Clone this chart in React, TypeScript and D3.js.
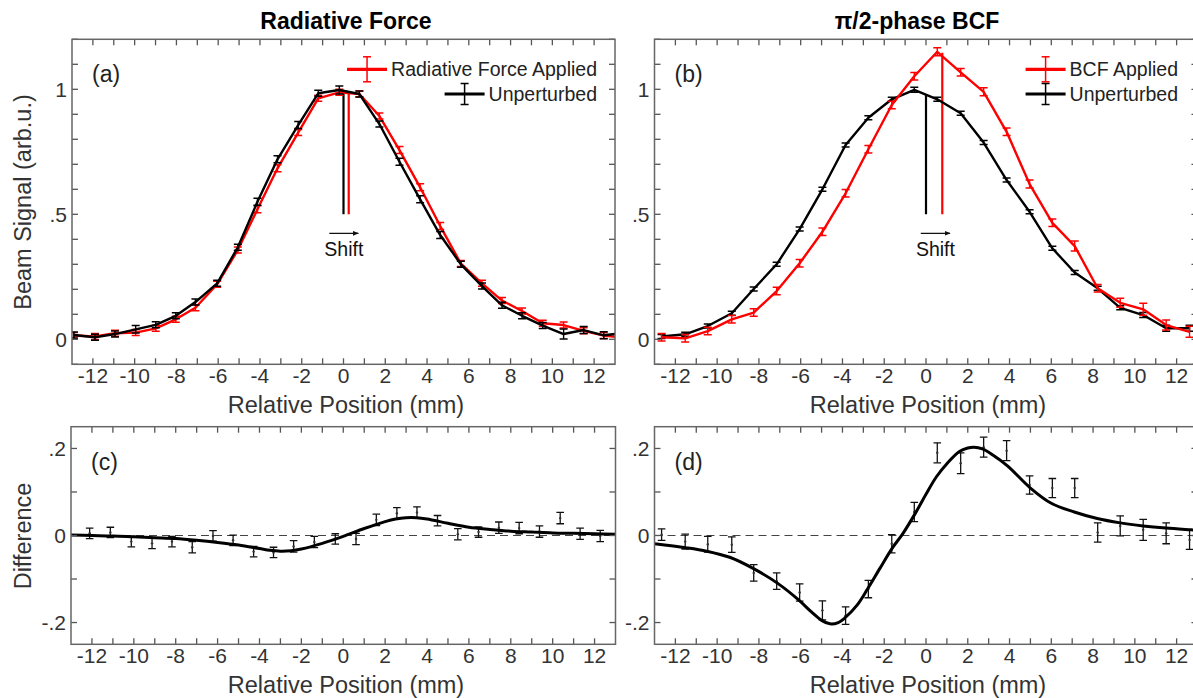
import React, { useEffect, useRef } from 'react';
import * as d3 from 'd3';

const width = 1193;
const height = 698;
const FONT = 'Arial, "Liberation Sans", Helvetica, sans-serif';
const RED = '#ff0000';

// ---- panel (a): radiative force ----
const posA = [-12.91, -11.9, -10.94, -9.95, -8.99, -8.03, -7.09, -6.05, -5.06, -4.12, -3.16, -2.17, -1.21, -0.2, 0.76, 1.72, 2.68, 3.67, 4.63, 5.62, 6.63, 7.59, 8.55, 9.54, 10.54, 11.5, 12.46, 13.43];
const unpertA = [0.017, 0.008, 0.021, 0.04, 0.058, 0.094, 0.149, 0.224, 0.368, 0.55, 0.72, 0.857, 0.984, 0.997, 0.981, 0.861, 0.71, 0.56, 0.417, 0.3, 0.213, 0.136, 0.094, 0.055, 0.021, 0.037, 0.016, 0.025];
const unpertAErr = [0.012, 0.012, 0.012, 0.015, 0.012, 0.012, 0.012, 0.012, 0.012, 0.014, 0.014, 0.014, 0.012, 0.016, 0.012, 0.012, 0.014, 0.014, 0.014, 0.012, 0.012, 0.012, 0.012, 0.012, 0.02, 0.014, 0.014, 0.014];
const forceA = [0.015, 0.011, 0.024, 0.027, 0.044, 0.08, 0.126, 0.22, 0.357, 0.52, 0.684, 0.827, 0.964, 0.988, 0.981, 0.893, 0.757, 0.608, 0.453, 0.303, 0.224, 0.155, 0.113, 0.064, 0.057, 0.034, 0.015, 0.006];
const forceAErr = [0.012, 0.012, 0.012, 0.012, 0.012, 0.012, 0.012, 0.012, 0.012, 0.014, 0.014, 0.012, 0.012, 0.012, 0.012, 0.012, 0.014, 0.014, 0.014, 0.012, 0.012, 0.012, 0.012, 0.012, 0.012, 0.012, 0.012, 0.012];

// ---- panel (b): pi/2-phase BCF ----
const posB = [-12.66, -11.53, -10.45, -9.3, -8.25, -7.15, -6.05, -4.96, -3.85, -2.76, -1.64, -0.56, 0.54, 1.66, 2.76, 3.86, 4.96, 6.05, 7.12, 8.22, 9.3, 10.4, 11.5, 12.62];
const unpertB = [0.011, 0.02, 0.053, 0.104, 0.201, 0.3, 0.441, 0.6, 0.777, 0.886, 0.96, 0.998, 0.96, 0.904, 0.787, 0.637, 0.51, 0.364, 0.267, 0.204, 0.126, 0.097, 0.044, 0.044];
const unpertBErr = [0.008, 0.008, 0.008, 0.008, 0.008, 0.008, 0.008, 0.008, 0.008, 0.008, 0.008, 0.01, 0.008, 0.008, 0.008, 0.008, 0.008, 0.008, 0.008, 0.008, 0.008, 0.01, 0.012, 0.012];
const bcfB = [0.008, 0.004, 0.033, 0.08, 0.107, 0.193, 0.304, 0.43, 0.584, 0.76, 0.937, 1.052, 1.15, 1.068, 0.99, 0.83, 0.621, 0.466, 0.373, 0.204, 0.146, 0.12, 0.057, 0.03];
const bcfBErr = [0.015, 0.015, 0.015, 0.015, 0.015, 0.015, 0.015, 0.015, 0.015, 0.015, 0.015, 0.015, 0.016, 0.015, 0.016, 0.015, 0.016, 0.015, 0.02, 0.015, 0.018, 0.024, 0.02, 0.022];

// ---- panel (c): difference, radiative force ----
const posC = [-12.11, -11.12, -10.12, -9.13, -8.18, -7.21, -6.22, -5.26, -4.28, -3.33, -2.37, -1.38, -0.38, 0.61, 1.58, 2.56, 3.52, 4.5, 5.47, 6.46, 7.43, 8.4, 9.37, 10.36, 11.31, 12.27];
const diffC = [0.005, 0.007, -0.014, -0.018, -0.014, -0.027, -0.001, -0.011, -0.037, -0.039, -0.025, -0.015, -0.008, -0.008, 0.036, 0.051, 0.053, 0.034, 0.003, 0.008, 0.018, 0.017, 0.009, 0.04, 0.004, -0.001];
const diffCErr = [0.012, 0.012, 0.012, 0.012, 0.012, 0.013, 0.012, 0.012, 0.012, 0.012, 0.013, 0.013, 0.012, 0.013, 0.013, 0.013, 0.013, 0.012, 0.013, 0.012, 0.013, 0.013, 0.013, 0.013, 0.013, 0.013];
const fitCx = [-13, -12, -11, -10, -9, -8, -7, -6, -5, -4, -3.5, -3, -2.5, -2, -1, 0, 1, 2, 2.5, 3, 3.5, 4, 5, 6, 7, 8, 9, 10, 11, 12, 13];
const fitCy = [0.001, 0, -0.001, -0.003, -0.005, -0.007, -0.011, -0.016, -0.022, -0.03, -0.034, -0.036, -0.035, -0.031, -0.018, -0.002, 0.016, 0.032, 0.038, 0.041, 0.041, 0.038, 0.028, 0.019, 0.014, 0.01, 0.008, 0.006, 0.005, 0.004, 0.003];

// ---- panel (d): difference, BCF ----
const diffD = [0.002, -0.014, -0.02, -0.021, -0.086, -0.105, -0.131, -0.172, -0.184, -0.123, -0.019, 0.054, 0.19, 0.166, 0.203, 0.195, 0.116, 0.109, 0.109, 0.007, 0.022, 0.013, 0.005, -0.01];
const diffDErr = [0.013, 0.017, 0.018, 0.018, 0.019, 0.019, 0.02, 0.022, 0.02, 0.02, 0.021, 0.022, 0.023, 0.024, 0.023, 0.023, 0.021, 0.022, 0.022, 0.022, 0.023, 0.024, 0.024, 0.022];
const fitDx = [-13, -11.5, -10.5, -9.4, -8.3, -7.1, -6.1, -5.5, -5, -4.6, -4.2, -3.9, -3.3, -2.8, -2.2, -1.6, -1.1, -0.5, 0, 0.5, 1, 1.6, 2, 2.3, 2.7, 3.2, 3.9, 5, 6, 7.1, 8.2, 9.3, 10.4, 11.5, 12.7, 13];
const fitDy = [-0.019, -0.028, -0.036, -0.05, -0.075, -0.11, -0.148, -0.175, -0.195, -0.203, -0.2, -0.19, -0.16, -0.123, -0.075, -0.028, 0.005, 0.052, 0.095, 0.135, 0.165, 0.193, 0.201, 0.203, 0.199, 0.185, 0.16, 0.109, 0.074, 0.054, 0.039, 0.029, 0.022, 0.017, 0.013, 0.012];

// peak markers: [position, top value], both start at 0.5
const markA = { black: [0, 0.995], red: [0.25, 0.985], arrow: [-0.68, 0.71] };
const markB = { black: [0, 0.977], red: [0.78, 1.146], arrow: [-0.25, 1.15] };

const xTickLabels = [-12, -10, -8, -6, -4, -2, 0, 2, 4, 6, 8, 10, 12];
const topYLabels = [0, 0.5, 1];
const topYText = ['0', '.5', '1'];
const botYLabels = [-0.2, 0, 0.2];
const botYText = ['-.2', '0', '.2'];

const App = () => {
  const ref = useRef(null);

  useEffect(() => {
    const svg = d3.select(ref.current);
    svg.selectAll('*').remove();
    const defs = svg.append('defs');
    defs.append('marker')
      .attr('id', 'arrowhead')
      .attr('viewBox', '0 0 10 10')
      .attr('refX', 9).attr('refY', 5)
      .attr('markerWidth', 6).attr('markerHeight', 6)
      .attr('markerUnits', 'userSpaceOnUse')
      .attr('orient', 'auto')
      .append('path').attr('d', 'M0,1 L10,5 L0,9 Z').attr('fill', '#111');

    function panel(p) {
      const x = d3.scaleLinear().domain([-13, 13]).range([p.left, p.right]);
      const y = d3.scaleLinear().domain(p.yDomain).range([p.bottom, p.top]);
      defs.append('clipPath').attr('id', p.id).append('rect')
        .attr('x', p.left).attr('y', p.top)
        .attr('width', p.right - p.left).attr('height', p.bottom - p.top);
      const plot = svg.append('g').attr('clip-path', `url(#${p.id})`);
      const frame = svg.append('g');

      const xt = d3.range(-12, 13);
      [[p.bottom, -6], [p.top, 6]].forEach(([y0, dl]) => {
        frame.selectAll(null).data(xt).enter().append('line')
          .attr('x1', d => x(d)).attr('x2', d => x(d))
          .attr('y1', y0).attr('y2', y0 + dl)
          .attr('stroke', '#555').attr('stroke-width', 1.3);
      });
      [[p.left, 6], [p.right, -6]].forEach(([x0, dl]) => {
        frame.selectAll(null).data(p.yTicks).enter().append('line')
          .attr('x1', x0).attr('x2', x0 + dl)
          .attr('y1', d => y(d)).attr('y2', d => y(d))
          .attr('stroke', '#555').attr('stroke-width', 1.3);
      });
      frame.append('rect')
        .attr('x', p.left).attr('y', p.top)
        .attr('width', p.right - p.left).attr('height', p.bottom - p.top)
        .attr('fill', 'none').attr('stroke', '#666').attr('stroke-width', 1.5);

      frame.selectAll(null).data(xTickLabels).enter().append('text')
        .attr('x', d => x(d)).attr('y', p.bottom + 19)
        .attr('text-anchor', 'middle')
        .style('font-family', FONT).style('font-size', '21px').attr('fill', '#333')
        .text(d => d);
      frame.selectAll(null).data(p.yLabels).enter().append('text')
        .attr('x', p.left - 5).attr('y', d => y(d)).attr('dy', '0.36em')
        .attr('text-anchor', 'end')
        .style('font-family', FONT).style('font-size', '21px').attr('fill', '#333')
        .text((d, i) => p.yText[i]);
      frame.append('text')
        .attr('x', p.titleX).attr('y', p.bottom + 49)
        .attr('text-anchor', 'middle')
        .style('font-family', FONT).style('font-size', '23.5px').attr('fill', '#333')
        .text('Relative Position (mm)');
      frame.append('text')
        .attr('x', p.left + 20).attr('y', p.top + 43)
        .style('font-family', FONT).style('font-size', '23px').attr('fill', '#222')
        .text(p.label);
      return { x, y, plot };
    }

    function series(g, x, y, xs, vs, es, color) {
      const pts = xs.map((d, i) => [d, vs[i], es[i]]);
      g.append('path')
        .datum(pts)
        .attr('fill', 'none').attr('stroke', color).attr('stroke-width', 2.4)
        .attr('stroke-linejoin', 'round')
        .attr('d', d3.line().x(d => x(d[0])).y(d => y(d[1])));
      errorBars(g, x, y, pts, color, 4, 1.4);
    }

    function errorBars(g, x, y, pts, color, cap, sw) {
      const eb = g.append('g').attr('stroke', color).attr('stroke-width', sw);
      eb.selectAll(null).data(pts).enter().append('line')
        .attr('x1', d => x(d[0])).attr('x2', d => x(d[0]))
        .attr('y1', d => y(d[1] - d[2])).attr('y2', d => y(d[1] + d[2]));
      [-1, 1].forEach(s => {
        eb.selectAll(null).data(pts).enter().append('line')
          .attr('x1', d => x(d[0]) - cap).attr('x2', d => x(d[0]) + cap)
          .attr('y1', d => y(d[1] + s * d[2])).attr('y2', d => y(d[1] + s * d[2]));
      });
    }

    function markers(g, x, y, m) {
      g.append('line')
        .attr('x1', x(m.black[0])).attr('x2', x(m.black[0]))
        .attr('y1', y(0.5)).attr('y2', y(m.black[1]))
        .attr('stroke', '#000').attr('stroke-width', 2.2);
      g.append('line')
        .attr('x1', x(m.red[0])).attr('x2', x(m.red[0]))
        .attr('y1', y(0.5)).attr('y2', y(m.red[1]))
        .attr('stroke', RED).attr('stroke-width', 2.2);
      g.append('line')
        .attr('x1', x(m.arrow[0])).attr('x2', x(m.arrow[1]))
        .attr('y1', y(0.424)).attr('y2', y(0.424))
        .attr('stroke', '#111').attr('stroke-width', 1.3)
        .attr('marker-end', 'url(#arrowhead)');
      g.append('text')
        .attr('x', (x(m.arrow[0]) + x(m.arrow[1])) / 2).attr('y', y(0.424) + 23)
        .attr('text-anchor', 'middle')
        .style('font-family', FONT).style('font-size', '19.5px').attr('fill', '#111')
        .text('Shift');
    }

    function legend(rightX, rows) {
      rows.forEach((r, i) => {
        const ly = 69.3 + i * 24.7;
        const t = svg.append('text')
          .attr('x', rightX).attr('y', ly + 7)
          .attr('text-anchor', 'end')
          .style('font-family', FONT).style('font-size', '19.5px').attr('fill', '#222')
          .text(r.name);
        const tw = t.node().getComputedTextLength();
        const x2 = rightX - tw - 4;
        const x1 = x2 - 40;
        const cx = (x1 + x2) / 2;
        const half = i === 0 ? 12.5 : 10.5;
        svg.append('line').attr('x1', x1).attr('x2', x2).attr('y1', ly).attr('y2', ly)
          .attr('stroke', r.color).attr('stroke-width', 3.2);
        svg.append('line').attr('x1', cx).attr('x2', cx).attr('y1', ly - half).attr('y2', ly + half)
          .attr('stroke', r.color).attr('stroke-width', 1.5);
        [-1, 1].forEach(s => {
          svg.append('line').attr('x1', cx - 4).attr('x2', cx + 4)
            .attr('y1', ly + s * half).attr('y2', ly + s * half)
            .attr('stroke', r.color).attr('stroke-width', 1.5);
        });
      });
    }

    const topTicks = d3.range(-1, 13).map(d => d / 10);
    const botTicks = [-0.2, -0.1, 0, 0.1, 0.2];

    // (a)
    const a = panel({ id: 'clipA', left: 72, right: 615, top: 39.3, bottom: 364.3, yDomain: [-0.1, 1.2], yTicks: topTicks, yLabels: topYLabels, yText: topYText, label: '(a)', titleX: 346 });
    markers(a.plot, a.x, a.y, markA);
    series(a.plot, a.x, a.y, posA, forceA, forceAErr, RED);
    series(a.plot, a.x, a.y, posA, unpertA, unpertAErr, '#000');
    legend(597, [{ name: 'Radiative Force Applied', color: RED }, { name: 'Unperturbed', color: '#000' }]);

    // (b)
    const b = panel({ id: 'clipB', left: 654.5, right: 1197.5, top: 39.3, bottom: 364.3, yDomain: [-0.1, 1.2], yTicks: topTicks, yLabels: topYLabels, yText: topYText, label: '(b)', titleX: 928 });
    markers(b.plot, b.x, b.y, markB);
    series(b.plot, b.x, b.y, posB, unpertB, unpertBErr, '#000');
    series(b.plot, b.x, b.y, posB, bcfB, bcfBErr, RED);
    legend(1178, [{ name: 'BCF Applied', color: RED }, { name: 'Unperturbed', color: '#000' }]);

    // (c) and (d)
    const diffPanels = [
      { cfg: { id: 'clipC', left: 71, right: 615.5, label: '(c)', titleX: 346 }, xs: posC, vs: diffC, es: diffCErr, fx: fitCx, fy: fitCy },
      { cfg: { id: 'clipD', left: 654.5, right: 1197.5, label: '(d)', titleX: 928 }, xs: posB, vs: diffD, es: diffDErr, fx: fitDx, fy: fitDy },
    ];
    diffPanels.forEach(dp => {
      const c = panel({ ...dp.cfg, top: 426.7, bottom: 644.3, yDomain: [-0.25, 0.25], yTicks: botTicks, yLabels: botYLabels, yText: botYText });
      c.plot.append('line')
        .attr('x1', c.x(-13)).attr('x2', c.x(13)).attr('y1', c.y(0)).attr('y2', c.y(0))
        .attr('stroke', '#444').attr('stroke-width', 1.2).attr('stroke-dasharray', '8,5');
      const pts = dp.xs.map((d, i) => [d, dp.vs[i], dp.es[i]]);
      errorBars(c.plot, c.x, c.y, pts, '#111', 3.8, 1.3);
      c.plot.selectAll(null).data(pts).enter().append('circle')
        .attr('cx', d => c.x(d[0])).attr('cy', d => c.y(d[1])).attr('r', 1.2).attr('fill', '#333');
      c.plot.append('path')
        .datum(dp.fx.map((d, i) => [d, dp.fy[i]]))
        .attr('fill', 'none').attr('stroke', '#000').attr('stroke-width', 3)
        .attr('d', d3.line().curve(d3.curveCatmullRom.alpha(0.5)).x(d => c.x(d[0])).y(d => c.y(d[1])));
    });

    // titles and y axis labels
    svg.append('text').attr('x', 346).attr('y', 29).attr('text-anchor', 'middle')
      .style('font-family', FONT).style('font-size', '23px').style('font-weight', 'bold')
      .text('Radiative Force');
    svg.append('text').attr('x', 917).attr('y', 29).attr('text-anchor', 'middle')
      .style('font-family', FONT).style('font-size', '23px').style('font-weight', 'bold')
      .text('π/2-phase BCF');
    svg.append('text').attr('transform', 'translate(31,202) rotate(-90)').attr('text-anchor', 'middle')
      .style('font-family', FONT).style('font-size', '23.5px').attr('fill', '#333')
      .text('Beam Signal (arb.u.)');
    svg.append('text').attr('transform', 'translate(31,536) rotate(-90)').attr('text-anchor', 'middle')
      .style('font-family', FONT).style('font-size', '23.5px').attr('fill', '#333')
      .text('Difference');
  }, []);

  return (
    <div style={{ position: 'absolute', left: 0, top: 0, width, height, overflow: 'hidden', background: '#fff' }}>
      <svg ref={ref} width={width} height={height} style={{ display: 'block' }}></svg>
    </div>
  );
};

export default App;
